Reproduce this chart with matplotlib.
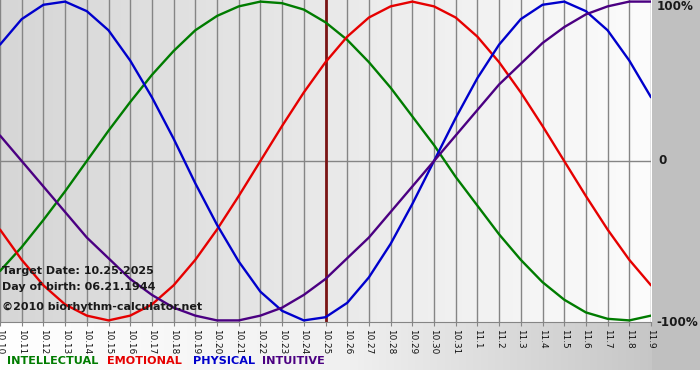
import matplotlib
matplotlib.use("Agg")
import matplotlib.pyplot as plt
import numpy as np
from matplotlib.colors import LinearSegmentedColormap

# dates shown on the x axis (10.10 .. 11.9)
date_labels = ['10.10', '10.11', '10.12', '10.13', '10.14', '10.15', '10.16',
               '10.17', '10.18', '10.19', '10.20', '10.21', '10.22', '10.23',
               '10.24', '10.25', '10.26', '10.27', '10.28', '10.29', '10.30',
               '10.31', '11.1', '11.2', '11.3', '11.4', '11.5', '11.6',
               '11.7', '11.8', '11.9']
target_label = '10.25'

# cycle values per day, -1 .. 1
intellectual = [-0.69, -0.54, -0.37, -0.19, 0.00, 0.19, 0.37, 0.54, 0.69, 0.82,
                0.91, 0.97, 1.00, 0.99, 0.95, 0.87, 0.76, 0.62, 0.46, 0.28,
                0.10, -0.10, -0.28, -0.46, -0.62, -0.76, -0.87, -0.95, -0.99,
                -1.00, -0.97]
emotional = [-0.43, -0.62, -0.78, -0.90, -0.97, -1.00, -0.97, -0.90, -0.78, -0.62,
             -0.43, -0.22, 0.00, 0.22, 0.43, 0.62, 0.78, 0.90, 0.97, 1.00,
             0.97, 0.90, 0.78, 0.62, 0.43, 0.22, 0.00, -0.22, -0.43, -0.62,
             -0.78]
physical = [0.73, 0.89, 0.98, 1.00, 0.94, 0.82, 0.63, 0.40, 0.14, -0.14,
            -0.40, -0.63, -0.82, -0.94, -1.00, -0.98, -0.89, -0.73, -0.52, -0.27,
            0.00, 0.27, 0.52, 0.73, 0.89, 0.98, 1.00, 0.94, 0.82, 0.63,
            0.40]
intuitive = [0.16, 0.00, -0.16, -0.32, -0.48, -0.61, -0.74, -0.84, -0.92, -0.97,
             -1.00, -1.00, -0.97, -0.92, -0.84, -0.74, -0.61, -0.48, -0.32, -0.16,
             0.00, 0.16, 0.32, 0.48, 0.61, 0.74, 0.84, 0.92, 0.97, 1.00,
             1.00]

series = [
    ('INTELLECTUAL', intellectual, '#007c00'),
    ('EMOTIONAL', emotional, '#e60000'),
    ('PHYSICAL', physical, '#0000cc'),
    ('INTUITIVE', intuitive, '#4b0082'),
]

W, H = 700, 380
fig = plt.figure(figsize=(W / 100, H / 100), dpi=100)
fig.patch.set_facecolor('white')

# background strips (right margin + bottom gradient)
bg = fig.add_axes([0, 0, 1, 1], zorder=-5)
bg.set_xlim(0, W)
bg.set_ylim(H, 0)
bg.axis('off')
strip = LinearSegmentedColormap.from_list('strip', ['#ffffff', '#f0f0f0', '#c0c0c0'])
bg.imshow(np.linspace(0, 1, 256)[None, :], cmap=strip, aspect='auto',
          extent=[0, W, 370, 322])
bg.fill_between([652, W], 0, 370, color='#c0c0c0', lw=0)

# main plot area
ax = fig.add_axes([0, (H - 322) / H, 651 / W, 322 / H])
days = np.arange(len(date_labels))
ax.set_xlim(0, len(date_labels) - 1)
ax.set_ylim(-1.01, 1.01)

plot_bg = LinearSegmentedColormap.from_list('plotbg', ['#d6d6d6', '#fcfcfc'])
ax.imshow(np.linspace(0, 1, 256)[None, :], cmap=plot_bg, aspect='auto',
          extent=[0, len(date_labels) - 1, -1.01, 1.01], zorder=0)

for d in days:
    ax.axvline(d, color='#858585', lw=1, zorder=1)
ax.axhline(0, color='#858585', lw=1, zorder=1)

ax.axvline(date_labels.index(target_label), color='#7a1414', lw=2, zorder=2)

for name, vals, col in series:
    ax.plot(days, vals, color=col, lw=1.7, zorder=3, solid_capstyle='round')

for side in ['top', 'left', 'right']:
    ax.spines[side].set_visible(False)
ax.spines['bottom'].set_color('#858585')
ax.set_yticks([])
ax.set_xticks(days)
ax.set_xticklabels(date_labels, rotation=270, fontsize=6.4, color='#111111')
ax.tick_params(axis='x', length=3, color='#858585', pad=2)

# info text in the plot
info_kw = dict(transform=ax.transAxes, fontsize=8, fontweight='bold',
               color='#1a1a1a', ha='left', va='center', zorder=4)
ax.text(2 / 651, 1 - 271 / 322, 'Target Date: 10.25.2025', **info_kw)
ax.text(2 / 651, 1 - 287 / 322, 'Day of birth: 06.21.1944', **info_kw)
ax.text(2 / 651, 1 - 307 / 322, '\u00a92010 biorhythm-calculator.net', **info_kw)

# right side percentage labels
lab_kw = dict(fontsize=8.6, fontweight='bold', color='#1a1a1a', ha='left', va='center')
fig.text(657 / W, 1 - 7 / H, '100%', **lab_kw)
fig.text(658 / W, 1 - 161 / H, '0', **lab_kw)
fig.text(656 / W, 1 - 322 / H, '-100%', **lab_kw)

# coloured legend words
leg_x = [7, 107, 193, 262]
for (name, vals, col), x in zip(series, leg_x):
    fig.text(x / W, 1 - 361 / H, name, fontsize=8.1, fontweight='bold',
             color=col, ha='left', va='center')

fig.savefig('out.png', dpi=100)
